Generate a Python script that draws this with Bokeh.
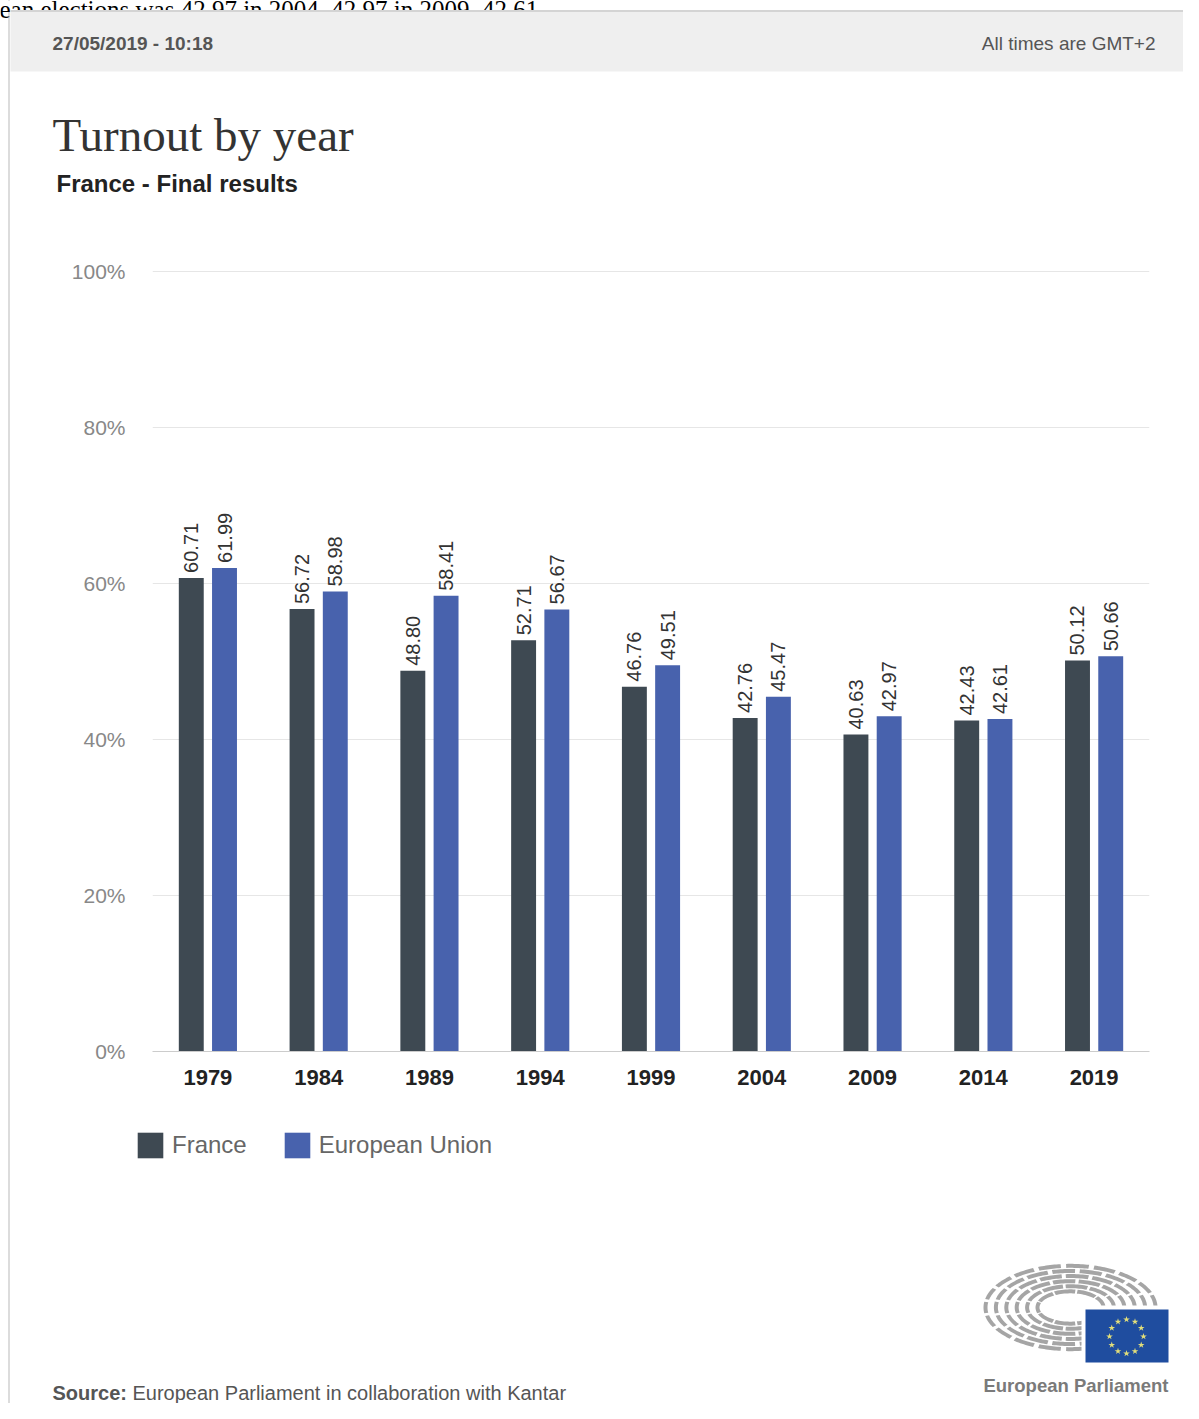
import numpy as np
from bokeh.plotting import figure
from bokeh.layouts import column
from bokeh.models import (ColumnDataSource, FactorRange, Range1d, Legend, LegendItem, FixedTicker)
from bokeh.transform import dodge
from bokeh.embed import file_html
from bokeh.resources import INLINE

# ---------------- data ----------------
years = ["1979", "1984", "1989", "1994", "1999", "2004", "2009", "2014", "2019"]
france = [60.71, 56.72, 48.80, 52.71, 46.76, 42.76, 40.63, 42.43, 50.12]
eu = [61.99, 58.98, 58.41, 56.67, 49.51, 45.47, 42.97, 42.61, 50.66]
y_ticks = [0, 20, 40, 60, 80, 100]
y_tick_labels = ["0%", "20%", "40%", "60%", "80%", "100%"]
series_names = ["France", "European Union"]

title_text = "Turnout by year"
subtitle_text = "France - Final results"
date_text = "27/05/2019 - 10:18"
tz_text = "All times are GMT+2"
source_bold = "Source:"
source_rest = "European Parliament in collaboration with Kantar"
logo_text = "European Parliament"
cut_text = "ean elections was 42.97 in 2004, 42.97 in 2009, 42.61"

FRANCE_C = "#3e4952"
EU_C = "#4862ad"
SANS = "Liberation Sans"
SERIF = "Liberation Serif"

W = 1183                 # figure width
X0, X1 = 0, W            # picture x covered by the figures
YA0, YA1 = 0, 250        # header figure
YB0, YB1 = 250, 1100     # chart figure
YC0, YC1 = 1100, 1403    # footer figure


def no_align(f):
    try:
        f.frame_align = False
    except Exception:
        pass


def deco_fig(y0, y1):
    f = figure(width=W, height=y1 - y0, x_range=Range1d(X0, X1), y_range=Range1d(y1, y0),
               output_backend="svg", toolbar_location=None, min_border=0,
               x_axis_location=None, y_axis_location=None)
    f.grid.visible = False
    f.outline_line_color = None
    f.background_fill_alpha = 0
    f.border_fill_alpha = 0
    no_align(f)
    return f


# ---------------- header ----------------
pa = deco_fig(YA0, YA1)
pa.quad(left=[0], right=[14], top=[0], bottom=[10], fill_color="white", line_color=None)
pa.text(x=[-1], y=[9], text=[cut_text], text_font={"value": SERIF}, text_font_size="25px",
        text_color="#000000", text_baseline="alphabetic")
pa.quad(left=[10], right=[X1], top=[9.5], bottom=[11.5], fill_color="#d4d4d4", line_color=None)
pa.quad(left=[10], right=[X1], top=[11.5], bottom=[71], fill_color="#efefef", line_color=None)
pa.text(x=[52], y=[43], text=[date_text], text_font={"value": SANS}, text_font_size="19px",
        text_font_style="bold", text_color="#555555", text_baseline="middle")
pa.text(x=[1155], y=[43], text=[tz_text], text_font={"value": SANS}, text_font_size="19px",
        text_color="#555555", text_baseline="middle", text_align="right")
pa.text(x=[52], y=[134], text=[title_text], text_font={"value": SERIF}, text_font_size="47px",
        text_color="#333333", text_baseline="middle")
pa.text(x=[56], y=[183], text=[subtitle_text], text_font={"value": SANS}, text_font_size="24px",
        text_font_style="bold", text_color="#222222", text_baseline="middle")

# ---------------- chart ----------------
FL_PAGE, FR_PAGE = 152, 1149
Y_TOP = 100.5
PX_PER = 7.8
FH = int(round(Y_TOP * PX_PER))
F_BOTTOM = 1051
F_TOP = F_BOTTOM - FH

src = ColumnDataSource(dict(
    year=years, france=france, eu=eu,
    france_lbl=["%.2f" % v for v in france],
    eu_lbl=["%.2f" % v for v in eu],
))

p = figure(width=W, height=YB1 - YB0, x_range=FactorRange(factors=years, range_padding=0),
           y_range=Range1d(0, Y_TOP), output_backend="svg", toolbar_location=None,
           min_border_left=FL_PAGE - X0, min_border_right=X1 - FR_PAGE,
           min_border_top=F_TOP - YB0, min_border_bottom=YB1 - F_BOTTOM)
p.outline_line_color = None
p.background_fill_color = "white"
p.border_fill_alpha = 0
no_align(p)

p.xgrid.grid_line_color = None
p.ygrid.grid_line_color = "#e6e6e6"
p.ygrid.ticker = FixedTicker(ticks=y_ticks)

p.yaxis.ticker = FixedTicker(ticks=y_ticks)
p.yaxis.major_label_overrides = {t: l for t, l in zip(y_ticks, y_tick_labels)}
p.yaxis.axis_line_color = None
p.yaxis.major_tick_line_color = None
p.yaxis.minor_tick_line_color = None
p.yaxis.major_tick_out = 0
p.yaxis.major_tick_in = 0
p.yaxis.major_label_standoff = 27
p.yaxis.major_label_text_font = SANS
p.yaxis.major_label_text_font_size = "21px"
p.yaxis.major_label_text_color = "#888888"

p.xaxis.axis_line_color = "#cccccc"
p.xaxis.axis_line_width = 1
p.xaxis.major_tick_line_color = None
p.xaxis.minor_tick_line_color = None
p.xaxis.major_tick_out = 0
p.xaxis.major_tick_in = 0
p.xaxis.major_label_standoff = 18
p.xaxis.major_label_text_font = SANS
p.xaxis.major_label_text_font_size = "22px"
p.xaxis.major_label_text_font_style = "bold"
p.xaxis.major_label_text_color = "#222222"

r_fr = p.vbar(x=dodge("year", -0.15, range=p.x_range), top="france", width=0.225,
              source=src, fill_color=FRANCE_C, line_color=None)
r_eu = p.vbar(x=dodge("year", 0.15, range=p.x_range), top="eu", width=0.225,
              source=src, fill_color=EU_C, line_color=None)

for col, lbl, off in (("france", "france_lbl", -0.15), ("eu", "eu_lbl", 0.15)):
    p.text(x=dodge("year", off, range=p.x_range), y=col, text=lbl, source=src,
           angle=np.pi / 2, text_align="left", text_baseline="middle", y_offset=-5,
           text_font_size="20px", text_color="#333333", text_font={"value": SANS})

# ---------------- footer (legend, source, logo) ----------------
pc = deco_fig(YC0, YC1)

# legend swatch renderers (zero-size marks in the series colours)
lg_fr = pc.vbar(x=[X0], top=[YC0], bottom=[YC0], width=0, fill_color=FRANCE_C, line_color=None)
lg_eu = pc.vbar(x=[X0], top=[YC0], bottom=[YC0], width=0, fill_color=EU_C, line_color=None)
legend = Legend(items=[LegendItem(label=series_names[0], renderers=[lg_fr]),
                       LegendItem(label=series_names[1], renderers=[lg_eu])],
                location=(134 - X0, YC1 - 1161), orientation="horizontal",
                glyph_width=32, glyph_height=32, label_standoff=6, spacing=34,
                padding=0, margin=0, border_line_color=None, background_fill_alpha=0,
                label_text_font=SANS, label_text_font_size="24px",
                label_text_color="#666666")
pc.add_layout(legend)

pc.text(x=[52], y=[1392], text=[source_bold], text_font={"value": SANS}, text_font_size="20px",
        text_font_style="bold", text_color="#555555", text_baseline="middle")
pc.text(x=[132], y=[1392], text=[source_rest], text_font={"value": SANS}, text_font_size="20px",
        text_color="#555555", text_baseline="middle")

# logo: hemicycle rings
cx0, cy0 = 1070, 1307
xs_all, ys_all = [], []
for i in range(6):
    rx = 33 + i * 10.4
    ry = rx * 0.49
    t = 4.0
    nseg = 9 + i * 2
    span = 360.0 / nseg
    for k in range(nseg):
        a0 = np.radians(k * span + 1.8)
        a1 = np.radians((k + 1) * span - 1.8)
        ang = np.linspace(a0, a1, 12)
        xo = cx0 + (rx + t / 2) * np.cos(ang)
        yo = cy0 - (ry + t / 2) * np.sin(ang)
        xi = cx0 + (rx - t / 2) * np.cos(ang[::-1])
        yi = cy0 - (ry - t / 2) * np.sin(ang[::-1])
        xs_all.append(list(np.concatenate([xo, xi])))
        ys_all.append(list(np.concatenate([yo, yi])))
pc.patches(xs=xs_all, ys=ys_all, fill_color="#a5a5a5", line_color=None)
pc.quad(left=[1081], right=[1172], top=[1305], bottom=[1366], fill_color="white", line_color=None)
pc.quad(left=[1085], right=[1168], top=[1309], bottom=[1362], fill_color="#1f4d9f", line_color=None)
scx, scy, sr = 1126, 1336, 17
ang = np.radians(90 - np.arange(12) * 30)
pc.scatter(x=scx + sr * np.cos(ang), y=scy - sr * np.sin(ang), marker="star", size=7,
           fill_color="#e3df7a", line_color=None)
pc.text(x=[1168], y=[1385], text=[logo_text], text_font={"value": SANS}, text_font_size="18.5px",
        text_font_style="bold", text_color="#7a7a7a", text_baseline="middle", text_align="right")

layout = column(pa, p, pc, spacing=0, styles={
    "background": "linear-gradient(to right, white 8px, #dcdcdc 8px, #dcdcdc 10px, white 10px)"})
open("out.html", "w").write(file_html(layout, INLINE))
